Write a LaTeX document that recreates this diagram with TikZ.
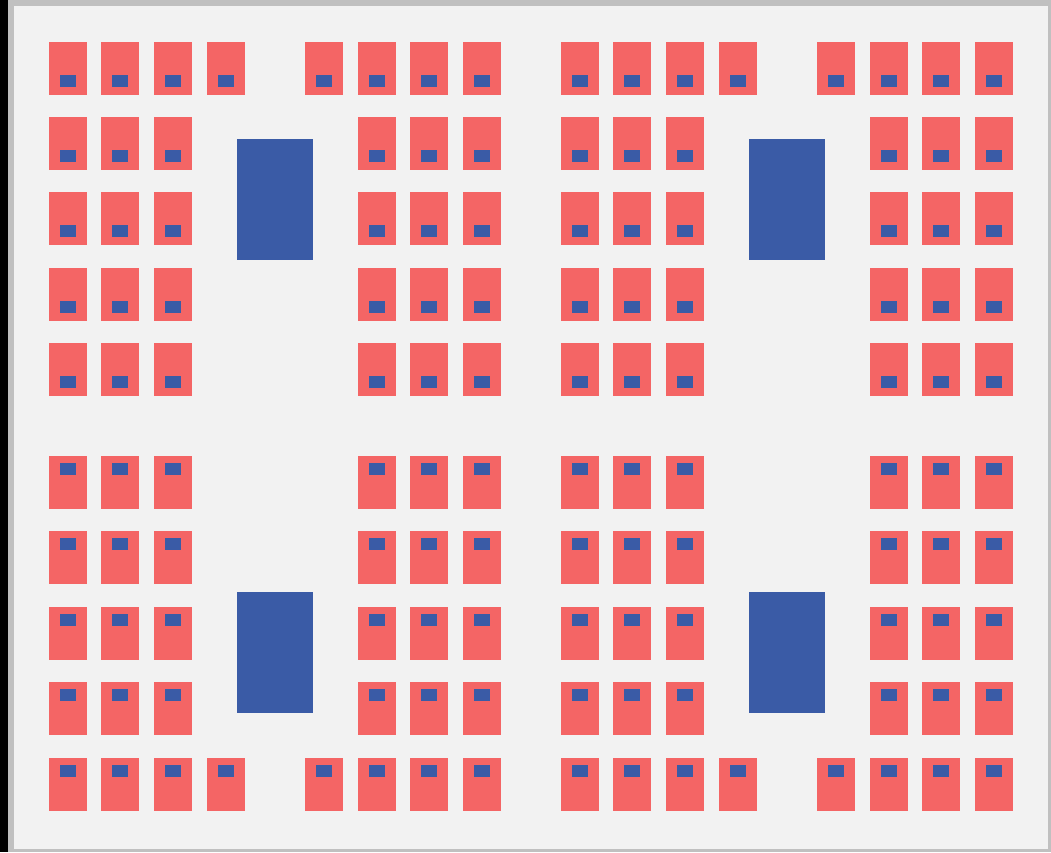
\documentclass[tikz,border=0pt]{standalone}
\usepackage{tikz}
\definecolor{DeskRed}{HTML}{F46565}
\definecolor{SeatBlue}{HTML}{3A5BA6}
\definecolor{FloorBG}{HTML}{F2F2F2}
\definecolor{WallGray}{HTML}{C0C0C0}
\begin{document}
\begin{tikzpicture}[x=1pt, y=-1pt,
  desk/.style={fill=DeskRed},
  seat/.style={fill=SeatBlue},
  tbl/.style={fill=SeatBlue}]
  \useasboundingbox (0,0) rectangle (1051,852);
  % room
  \fill[black] (0,0) rectangle (8,852);
  \fill[WallGray] (8,0) rectangle (1051,852);
  \fill[FloorBG] (14,6) rectangle (1048,849);
  \foreach \h in {0,512}{
    % front and back rows
    \foreach \x in {49,101,154,207,305,358,410,463}{
      \fill[desk] (\x+\h,42) rectangle ++(38,53);
      \fill[seat] (\x+\h+11,75) rectangle ++(16,12);
      \fill[desk] (\x+\h,758) rectangle ++(38,53);
      \fill[seat] (\x+\h+11,765) rectangle ++(16,12);
    }
    % inner rows
    \foreach \x in {49,101,154,358,410,463}{
      \foreach \y in {117,192,268,343}{
        \fill[desk] (\x+\h,\y) rectangle ++(38,53);
        \fill[seat] (\x+\h+11,\y+33) rectangle ++(16,12);
      }
      \foreach \y in {456,531,607,682}{
        \fill[desk] (\x+\h,\y) rectangle ++(38,53);
        \fill[seat] (\x+\h+11,\y+7) rectangle ++(16,12);
      }
    }
    % tables
    \fill[tbl] (237+\h,139) rectangle ++(76,121);
    \fill[tbl] (237+\h,592) rectangle ++(76,121);
  }
\end{tikzpicture}
\end{document}
